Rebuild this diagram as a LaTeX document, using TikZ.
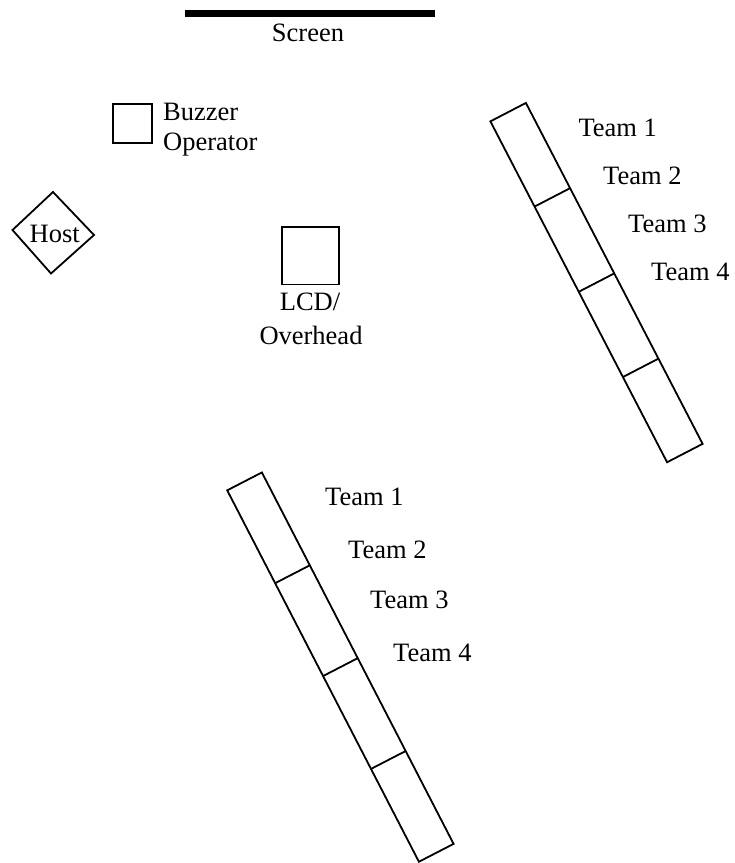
\documentclass[tikz,border=0pt]{standalone}
\usepackage{fontspec}
\setmainfont{Liberation Serif}
\begin{document}
\begin{tikzpicture}[x=1pt,y=-1pt,
  lbl/.style={inner sep=0pt, font=\fontsize{26.5}{30}\selectfont},
  outline/.style={draw=black, line width=1.8pt},
  railcell/.style={draw=black, line width=1.8pt}]
\useasboundingbox (0,0) rectangle (735,863);

% projection screen
\coordinate (scrL) at (185,13.7);
\coordinate (scrR) at (435,13.7);
\draw[line width=7.3pt] (scrL) -- (scrR);
\node[lbl, anchor=base] (scrtxt) at (308,41) {Screen};

% buzzer operator
\draw[outline] (113,104) rectangle (152,143);
\node[lbl, anchor=base west] (buzz) at (163,120) {Buzzer};
\node[lbl, anchor=base west] (oper) at (163,150) {Operator};

% host
\draw[outline] (53,192) -- (94,235) -- (51,273.5) -- (12.5,230) -- cycle;
\node[lbl, anchor=base] (host) at (54.7,242.3) {Host};

% projector
\draw[outline] (281.7,227) rectangle (339.3,284.5);
\node[lbl, anchor=base] (lcd) at (310,310.7) {LCD/};
\node[lbl, anchor=base] (ovh) at (311,344) {Overhead};

% right-hand team bench
\begin{scope}[shift={(596.5,282.6)}, rotate=-62.6]
  \draw[railcell] (-192,-20) rectangle (192,20);
  \foreach \d in {-96,0,96} \draw[railcell] (\d,-20) -- (\d,20);
\end{scope}
\node[lbl, anchor=base west] (rt1) at (578.3,136) {Team 1};
\node[lbl, anchor=base west] (rt2) at (603,184) {Team 2};
\node[lbl, anchor=base west] (rt3) at (628,232.5) {Team 3};
\node[lbl, anchor=base west] (rt4) at (651,280) {Team 4};

% lower team bench
\begin{scope}[shift={(340.4,667.1)}, rotate=-62.7]
  \draw[railcell] (-209,-19.5) rectangle (209,19.5);
  \foreach \d in {-104.5,0,104.5} \draw[railcell] (\d,-19.5) -- (\d,19.5);
\end{scope}
\node[lbl, anchor=base west] (lt1) at (325,505) {Team 1};
\node[lbl, anchor=base west] (lt2) at (348,558.3) {Team 2};
\node[lbl, anchor=base west] (lt3) at (370,608.3) {Team 3};
\node[lbl, anchor=base west] (lt4) at (393,661.7) {Team 4};
\end{tikzpicture}
\end{document}
